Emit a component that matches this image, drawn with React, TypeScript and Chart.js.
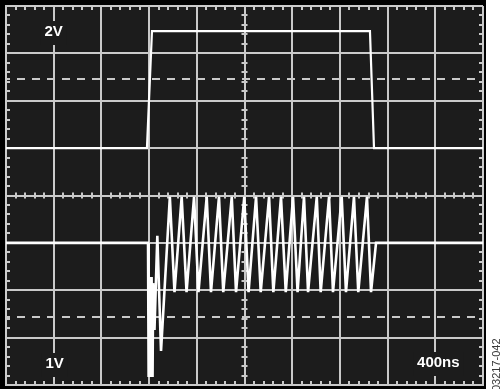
import React, { useEffect, useRef } from "react";
import { Chart, registerables } from "chart.js";

Chart.register(...registerables);

// Time base: 400 ns/div, 10 divisions
const timeTicksNs = [0, 400, 800, 1200, 1600, 2000, 2400, 2800, 3200, 3600, 4000];

// Channel 1 (2 V/div): logic pulse
const ch1TimeNs = [0, 1182, 1224, 3052, 3086, 4000];
const ch1Volts = [0, 0, 4.94, 4.94, 0, 0];

// Channel 2 (1 V/div): ringing start + oscillation burst
const ch2TimeNs = [
  0, 1191, 1196, 1204, 1213, 1221, 1229, 1234, 1245, 1269, 1300,
  1374, 1413, 1473, 1514, 1577, 1614, 1683, 1719, 1786, 1822, 1893, 1929,
  1998, 2034, 2097, 2136, 2206, 2242, 2306, 2346, 2407, 2445, 2499, 2533,
  2606, 2639, 2709, 2742, 2815, 2851, 2918, 2954, 3027, 3061, 3103, 4000,
];
const ch2Volts = [
  0, 0, -2.83, -0.72, -2.83, -0.72, -2.83, -0.85, -1.84, 0.15, -2.28,
  0.97, -1.04, 0.97, -1.04, 0.97, -1.04, 0.97, -1.04, 0.97, -1.04, 0.97, -1.04,
  0.97, -1.04, 0.97, -1.04, 0.97, -1.04, 0.97, -1.04, 0.97, -1.04, 0.97, -1.04,
  0.97, -1.04, 0.97, -1.04, 0.97, -1.04, 0.97, -1.04, 0.97, -1.04, 0, 0,
];

// Cursor levels (dashed lines)
const ch1CursorVolts = [2.92];
const ch2CursorVolts = [-1.56];

// Scale labels
const ch1ScaleLabel = "2V";
const ch2ScaleLabel = "1V";
const timeScaleLabel = "400ns";
const figureId = "03217-042";

const GRID = "#c9c9c9";
const BG = "#1c1c1c";
const FONT_BOLD = 'bold 15px "Liberation Sans", Arial, sans-serif';

const scopePlugin = {
  id: "scope",
  beforeDraw(chart: any) {
    const { ctx, chartArea: a, height } = chart;
    ctx.save();
    ctx.fillStyle = "#000";
    ctx.fillRect(0, 0, a.right + 3, height);
    ctx.fillStyle = BG;
    ctx.fillRect(a.left, a.top, a.right - a.left, a.bottom - a.top);
    ctx.restore();
  },
  beforeDatasetsDraw(chart: any) {
    const { ctx, chartArea: a, scales } = chart;
    const xs = scales.x;
    const ys = scales.y;
    const y2 = scales.y2;
    ctx.save();
    ctx.strokeStyle = GRID;
    ctx.lineWidth = 2;
    const xc = xs.getPixelForValue(2000);
    const yc = ys.getPixelForValue(-2);
    ctx.beginPath();
    for (let t = 80; t < 4000; t += 80) {
      if (t % 400 === 0) continue;
      const x = Math.round(xs.getPixelForValue(t));
      ctx.moveTo(x, a.top);
      ctx.lineTo(x, a.top + 4);
      ctx.moveTo(x, a.bottom - 4);
      ctx.lineTo(x, a.bottom);
      ctx.moveTo(x, yc - 3);
      ctx.lineTo(x, yc + 3);
    }
    for (let k = 1; k < 40; k++) {
      if (k % 5 === 0) continue;
      const v = -10 + k * 0.4;
      const y = Math.round(ys.getPixelForValue(v));
      ctx.moveTo(a.left, y);
      ctx.lineTo(a.left + 4, y);
      ctx.moveTo(a.right - 4, y);
      ctx.lineTo(a.right, y);
      ctx.moveTo(xc - 3, y);
      ctx.lineTo(xc + 3, y);
    }
    ctx.stroke();

    // dashed cursors
    ctx.setLineDash([8, 7]);
    ctx.lineDashOffset = 4;
    ctx.beginPath();
    ch1CursorVolts.forEach((v) => {
      const y = Math.round(ys.getPixelForValue(v));
      ctx.moveTo(a.left, y);
      ctx.lineTo(a.right, y);
    });
    ch2CursorVolts.forEach((v) => {
      const y = Math.round(y2.getPixelForValue(v));
      ctx.moveTo(a.left, y);
      ctx.lineTo(a.right, y);
    });
    ctx.stroke();
    ctx.restore();
  },
  afterDatasetsDraw(chart: any) {
    const { ctx, chartArea: a, scales, height } = chart;
    const xs = scales.x;
    ctx.save();
    ctx.font = FONT_BOLD;
    ctx.textAlign = "center";
    ctx.textBaseline = "middle";
    const label = (text: string, x: number, y: number) => {
      const w = ctx.measureText(text).width + 8;
      ctx.fillStyle = BG;
      ctx.fillRect(x - w / 2, y - 11, w, 24);
      ctx.fillStyle = "#ffffff";
      ctx.fillText(text, x, y);
    };
    const x400 = xs.getPixelForValue(400);
    const x3600 = xs.getPixelForValue(3600);
    label(ch1ScaleLabel, x400, a.top + 26);
    label(ch2ScaleLabel, x400 + 1, a.bottom - 21);
    label(timeScaleLabel, x3600 + 3, a.bottom - 22);

    // figure id, rotated
    ctx.translate(497, height + 2);
    ctx.rotate(-Math.PI / 2);
    ctx.font = '11px "Liberation Sans", Arial, sans-serif';
    ctx.fillStyle = "#3a3a3a";
    ctx.textAlign = "left";
    ctx.textBaseline = "middle";
    ctx.fillText(figureId, 0, 0);
    ctx.restore();
  },
};

export default function App() {
  const ref = useRef<HTMLCanvasElement | null>(null);

  useEffect(() => {
    if (!ref.current) return;
    const ch1 = ch1TimeNs.map((t, i) => ({ x: t, y: ch1Volts[i] }));
    const ch2 = ch2TimeNs.map((t, i) => ({ x: t, y: ch2Volts[i] }));
    const chart = new Chart(ref.current, {
      type: "line",
      data: {
        datasets: [
          {
            data: ch1,
            yAxisID: "y",
            borderColor: "#ffffff",
            borderWidth: 2.2,
            pointRadius: 0,
            tension: 0,
            fill: false,
          },
          {
            data: ch2,
            yAxisID: "y2",
            borderColor: "#ffffff",
            borderWidth: 2.6,
            pointRadius: 0,
            tension: 0,
            fill: false,
          },
        ],
      },
      options: {
        responsive: false,
        maintainAspectRatio: false,
        animation: false,
        layout: { padding: { left: 6, top: 6, right: 21, bottom: 4 } },
        plugins: { legend: { display: false }, tooltip: { enabled: false } },
        scales: {
          x: {
            type: "linear",
            min: 0,
            max: 4000,
            afterBuildTicks: (s: any) => {
              s.ticks = timeTicksNs.map((v) => ({ value: v }));
            },
            ticks: { display: false },
            grid: { color: GRID, lineWidth: 2, drawTicks: false },
            border: { display: true, color: GRID, width: 2 },
          },
          y: {
            type: "linear",
            min: -10,
            max: 6,
            ticks: { display: false, stepSize: 2 },
            grid: { color: GRID, lineWidth: 2, drawTicks: false },
            border: { display: true, color: GRID, width: 2 },
          },
          y2: {
            type: "linear",
            min: -3,
            max: 5,
            display: false,
          },
        },
      } as any,
      plugins: [scopePlugin],
    });
    return () => chart.destroy();
  }, []);

  return (
    <div
      style={{
        position: "absolute",
        left: 0,
        top: 0,
        width: 504,
        height: 389,
        background: "#ffffff",
      }}
    >
      <canvas ref={ref} width={504} height={389} style={{ display: "block" }} />
    </div>
  );
}
